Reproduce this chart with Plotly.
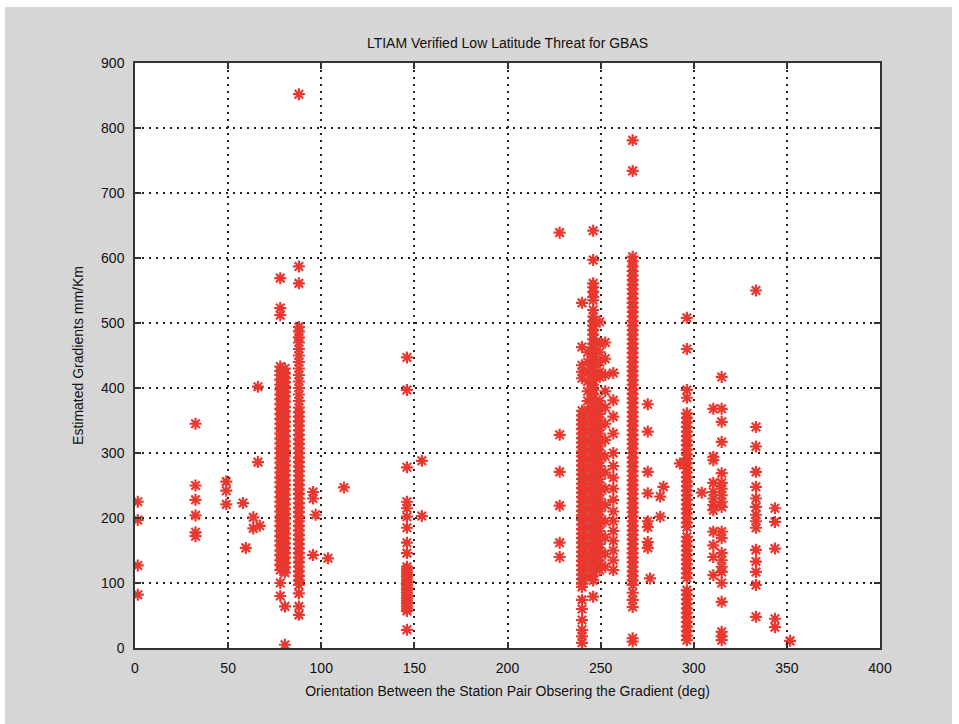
import plotly.graph_objects as go

# Observed ionospheric gradients: (orientation deg, gradient mm/km), grouped by station-pair baseline
edge_pairs = [(1.5, 225), (1.5, 197), (1.5, 127), (1.5, 82)]
pair_32 = [(32.5, 345), (32.5, 250), (32.5, 228), (32.5, 204), (32.5, 178), (32.5, 172)]
pair_50 = [(49, 256), (49, 242), (49, 221), (58, 223), (59.5, 154), (63.5, 201), (63.5, 184),
           (67, 188), (66, 286), (66, 402)]
pair_79a = [(78, v) for v in [569, 523, 512, 433, 426, 420, 413, 405, 398, 390, 383, 375, 368, 360,
                               352, 345, 338, 330, 322, 315, 307, 300, 292, 285, 277, 270, 262, 255,
                               248, 240, 232, 225, 218, 210, 202, 195, 188, 180, 172, 165, 158, 150,
                               143, 135, 128, 120, 100, 80]]
pair_79b = [(80.5, v) for v in [430, 423, 416, 409, 402, 394, 387, 379, 371, 364, 356, 348, 341, 334,
                                 326, 318, 311, 303, 296, 288, 281, 273, 266, 258, 251, 244, 236, 229,
                                 221, 214, 206, 199, 191, 184, 176, 169, 161, 154, 146, 139, 131, 124,
                                 116, 64, 5]]
pair_88 = [(88, v) for v in [852, 587, 561, 494, 487, 478, 470, 460, 450, 440, 430, 420, 410, 400,
                              390, 380, 370, 363, 356, 349, 342, 335, 328, 321, 314, 307, 300, 293,
                              286, 279, 272, 265, 258, 251, 244, 237, 230, 223, 216, 209, 202, 195,
                              188, 181, 174, 167, 160, 153, 146, 139, 132, 125, 118, 111, 104, 97,
                              84, 64, 51]]
pair_100 = [(95.6, 240), (95.6, 230), (97, 205), (95.6, 143), (103.6, 138), (112.2, 247)]
pair_146 = [(146, v) for v in [447, 397, 278, 225, 215, 202, 185, 162, 146, 125, 121, 117, 113,
                                109, 105, 101, 97, 93, 89, 85, 81, 77, 73, 69, 65, 61, 57, 28]]
pair_154 = [(154, 288), (154, 203)]
pair_228 = [(228, 639), (228, 328), (228, 271), (228, 219), (228, 162), (228, 140)]
pair_240 = [(240, v) for v in [531, 463, 435, 425, 415, 365, 358, 351, 344, 337, 330, 323, 316, 309,
                                302, 295, 288, 281, 274, 267, 260, 253, 246, 239, 232, 225, 218, 211,
                                204, 197, 190, 183, 176, 169, 162, 155, 148, 141, 134, 127, 120, 113,
                                106, 99, 94, 74, 60, 43, 28, 18, 8]]
pair_243 = [(243, v) for v in [455, 440, 425, 410, 395, 380, 365, 350, 335, 320, 305, 290, 275, 260,
                                245, 230, 215, 200, 185, 170, 155, 140, 125, 110]]
pair_246 = [(246, v) for v in [642, 597, 561, 555, 548, 540, 535, 520, 510, 503, 496, 489, 482, 475,
                                468, 461, 454, 447, 440, 433, 426, 419, 412, 405, 398, 391, 384, 377,
                                370, 363, 356, 349, 342, 335, 328, 321, 314, 307, 300, 293, 286, 279,
                                272, 265, 258, 251, 244, 237, 230, 223, 216, 209, 202, 195, 188, 181,
                                174, 167, 160, 153, 146, 139, 132, 125, 118, 111, 104, 79]]
pair_250 = [(249.5, v) for v in [502, 469, 455, 440, 425, 417, 380, 370, 360, 350, 340, 330, 320,
                                  310, 300, 290, 280, 270, 260, 250, 240, 230, 220, 210, 200, 190,
                                  180, 170, 160, 150, 140, 130, 120]]
pair_253 = [(252.5, v) for v in [470, 445, 420, 395, 370, 345, 320, 295, 270, 245, 220, 195, 170,
                                  145, 125]]
pair_256 = [(256.8, v) for v in [423, 381, 356, 330, 300, 280, 262, 245, 228, 210, 195, 180, 165,
                                  150, 135, 120]]
pair_267 = [(267.2, v) for v in [781, 734, 602, 595, 587, 580, 573, 566, 559, 552, 545, 538, 531,
                                  524, 517, 510, 503, 496, 489, 482, 475, 468, 461, 454, 447, 440,
                                  433, 426, 419, 412, 405, 398, 391, 384, 377, 370, 363, 356, 349,
                                  342, 335, 328, 321, 314, 307, 300, 293, 286, 279, 272, 265, 258,
                                  251, 244, 237, 230, 223, 216, 209, 202, 195, 188, 181, 174, 167,
                                  160, 153, 146, 139, 132, 125, 118, 111, 104, 97, 85, 74, 63, 15,
                                  10]]
pair_278 = [(275.3, 375), (275.3, 333), (275.3, 271), (275.3, 238), (275.3, 195), (275.3, 186),
            (275.3, 163), (275.3, 154), (276.5, 107), (283.7, 248), (282, 233), (282, 202)]
pair_296 = [(296.3, v) for v in [508, 460, 397, 385, 361, 354, 347, 340, 333, 326, 319, 312, 305,
                                  298, 291, 284, 277, 270, 263, 256, 249, 242, 235, 228, 221, 214,
                                  207, 200, 193, 186, 171, 164, 157, 150, 143, 136, 129, 122, 115,
                                  108, 89, 82, 75, 68, 61, 54, 47, 40, 33, 26, 19, 12]]
pair_300 = [(292.6, 284), (304.3, 239)]
pair_310 = [(310.5, v) for v in [368, 294, 289, 254, 240, 230, 220, 212, 179, 158, 140, 112]]
pair_315 = [(315, v) for v in [417, 368, 348, 317, 269, 254, 245, 235, 225, 217, 179, 169, 146,
                                135, 125, 117, 100, 71, 25, 18, 12]]
pair_333 = [(333.4, v) for v in [550, 340, 310, 271, 248, 230, 217, 205, 195, 185, 151, 133, 117,
                                  97, 48]]
pair_344 = [(343.6, 215), (343.6, 194), (343.6, 153), (343.6, 45), (343.6, 32), (351.7, 11)]

groups = [edge_pairs, pair_32, pair_50, pair_79a, pair_79b, pair_88, pair_100, pair_146, pair_154,
          pair_228, pair_240, pair_243, pair_246, pair_250, pair_253, pair_256, pair_267, pair_278,
          pair_296, pair_300, pair_310, pair_315, pair_333, pair_344]
orientation = [p[0] for g in groups for p in g]
gradient = [p[1] for g in groups for p in g]

x_ticks = [0, 50, 100, 150, 200, 250, 300, 350, 400]
y_ticks = [0, 100, 200, 300, 400, 500, 600, 700, 800, 900]

FONT = "Liberation Sans Narrow, Liberation Sans, Arial, sans-serif"
RED = "#e8382f"
FIG_GRAY = "#d6d6d6"

fig = go.Figure(go.Scatter(
    x=orientation, y=gradient, mode="markers",
    marker=dict(symbol="asterisk-open", size=10, color=RED, line=dict(color=RED, width=2.2)),
    hoverinfo="x+y",
))

axis_common = dict(
    showline=True, linecolor="#333333", linewidth=1.5, mirror="ticks",
    ticks="inside", ticklen=6, tickwidth=1.5, tickcolor="#333333",
    showgrid=True, gridcolor="#222222", griddash="1.5px,5.5px", gridwidth=1.5,
    zeroline=False, tickfont=dict(family=FONT, size=14, color="#111111"),
    ticklabelstandoff=6,
)

fig.update_layout(
    width=959, height=724,
    margin=dict(l=135, r=79, t=63, b=76),
    paper_bgcolor=FIG_GRAY, plot_bgcolor="white",
    showlegend=False,
    title=dict(text="LTIAM Verified Low Latitude Threat for GBAS", x=0.5, xref="paper",
               y=1.0, yref="paper", yanchor="bottom", pad=dict(b=15),
               font=dict(family=FONT, size=14, color="#111111")),
    xaxis=dict(range=[0, 400], tickvals=x_ticks, title=dict(
        text="Orientation Between the Station Pair Obsering the Gradient (deg)",
        font=dict(family=FONT, size=14, color="#111111"), standoff=12), **axis_common),
    yaxis=dict(range=[0, 900], tickvals=y_ticks, title=dict(
        text="Estimated Gradients mm/Km",
        font=dict(family=FONT, size=14, color="#111111"), standoff=14), **axis_common),
    shapes=[
        dict(type="rect", xref="paper", yref="paper", x0=-0.2, x1=1.2,
             y0=(648 - 7) / 585, y1=(648 + 10) / 585, fillcolor="white", line_width=0),
        dict(type="rect", xref="paper", yref="paper", x0=(-135 - 10) / 745, x1=(5 - 135) / 745,
             y0=-0.2, y1=1.2, fillcolor="white", line_width=0),
        dict(type="rect", xref="paper", yref="paper", x0=(952 - 135) / 745, x1=(970 - 135) / 745,
             y0=-0.2, y1=1.2, fillcolor="white", line_width=0),
    ],
)

fig.write_html("out.html")
